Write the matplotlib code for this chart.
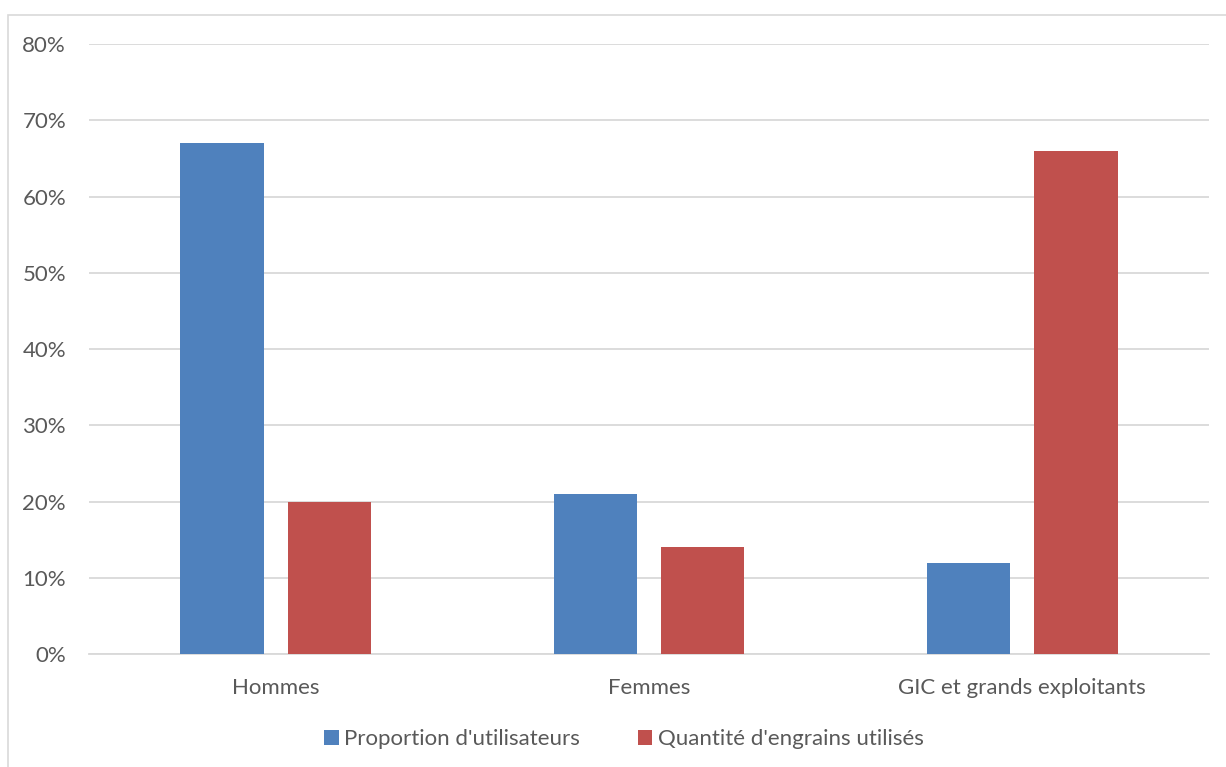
import numpy as np
import matplotlib.pyplot as plt
from matplotlib.patches import Rectangle
from matplotlib.ticker import PercentFormatter

# Données
categories = ["Hommes", "Femmes", "GIC et grands exploitants"]
proportion_utilisateurs = [67, 21, 12]
quantite_engrais = [20, 14, 66]
series_labels = ["Proportion d'utilisateurs", "Quantité d'engrains utilisés"]

blue = "#4F81BD"
red = "#C0504D"
text_color = "#595959"
grid_color = "#D9D9D9"

plt.rcParams["font.family"] = ["Lato", "DejaVu Sans"]

fig = plt.figure(figsize=(12.26, 7.67), dpi=100)
ax = fig.add_axes([0.0726, 0.1473, 0.9135, 0.7953])

# cadre du graphique
fig.patches.append(Rectangle((8 / 1226, -0.1), 1.2, 0.1 + (767 - 15) / 767,
                             transform=fig.transFigure, fill=False,
                             edgecolor="#D9D9D9", linewidth=1.2))

x = np.arange(len(categories))
width = 0.223
offset = 0.144
ax.bar(x - offset, proportion_utilisateurs, width, color=blue, label=series_labels[0], zorder=3)
ax.bar(x + offset, quantite_engrais, width, color=red, label=series_labels[1], zorder=3)

ax.set_xlim(-0.5, 2.5)
ax.set_ylim(0, 80)
ax.set_yticks(range(0, 81, 10))
ax.yaxis.set_major_formatter(PercentFormatter(decimals=0))
ax.set_xticks(x)
ax.set_xticklabels(categories)

ax.grid(axis="y", color=grid_color, linewidth=1.3, zorder=0)
for side in ["top", "right", "left"]:
    ax.spines[side].set_visible(False)
ax.spines["bottom"].set_color(grid_color)
ax.spines["bottom"].set_linewidth(1.3)
ax.tick_params(axis="both", length=0, labelsize=16, colors=text_color)
ax.tick_params(axis="y", pad=16.5)
ax.tick_params(axis="x", pad=17)

leg = fig.legend(loc="center", bbox_to_anchor=(624 / 1226, 1 - 739 / 767), ncol=2,
                 frameon=False, fontsize=16, handlelength=0.65, handleheight=0.65,
                 handletextpad=0.25, columnspacing=2.6)
for t in leg.get_texts():
    t.set_color(text_color)

fig.savefig("out.png", dpi=100, facecolor="white")
